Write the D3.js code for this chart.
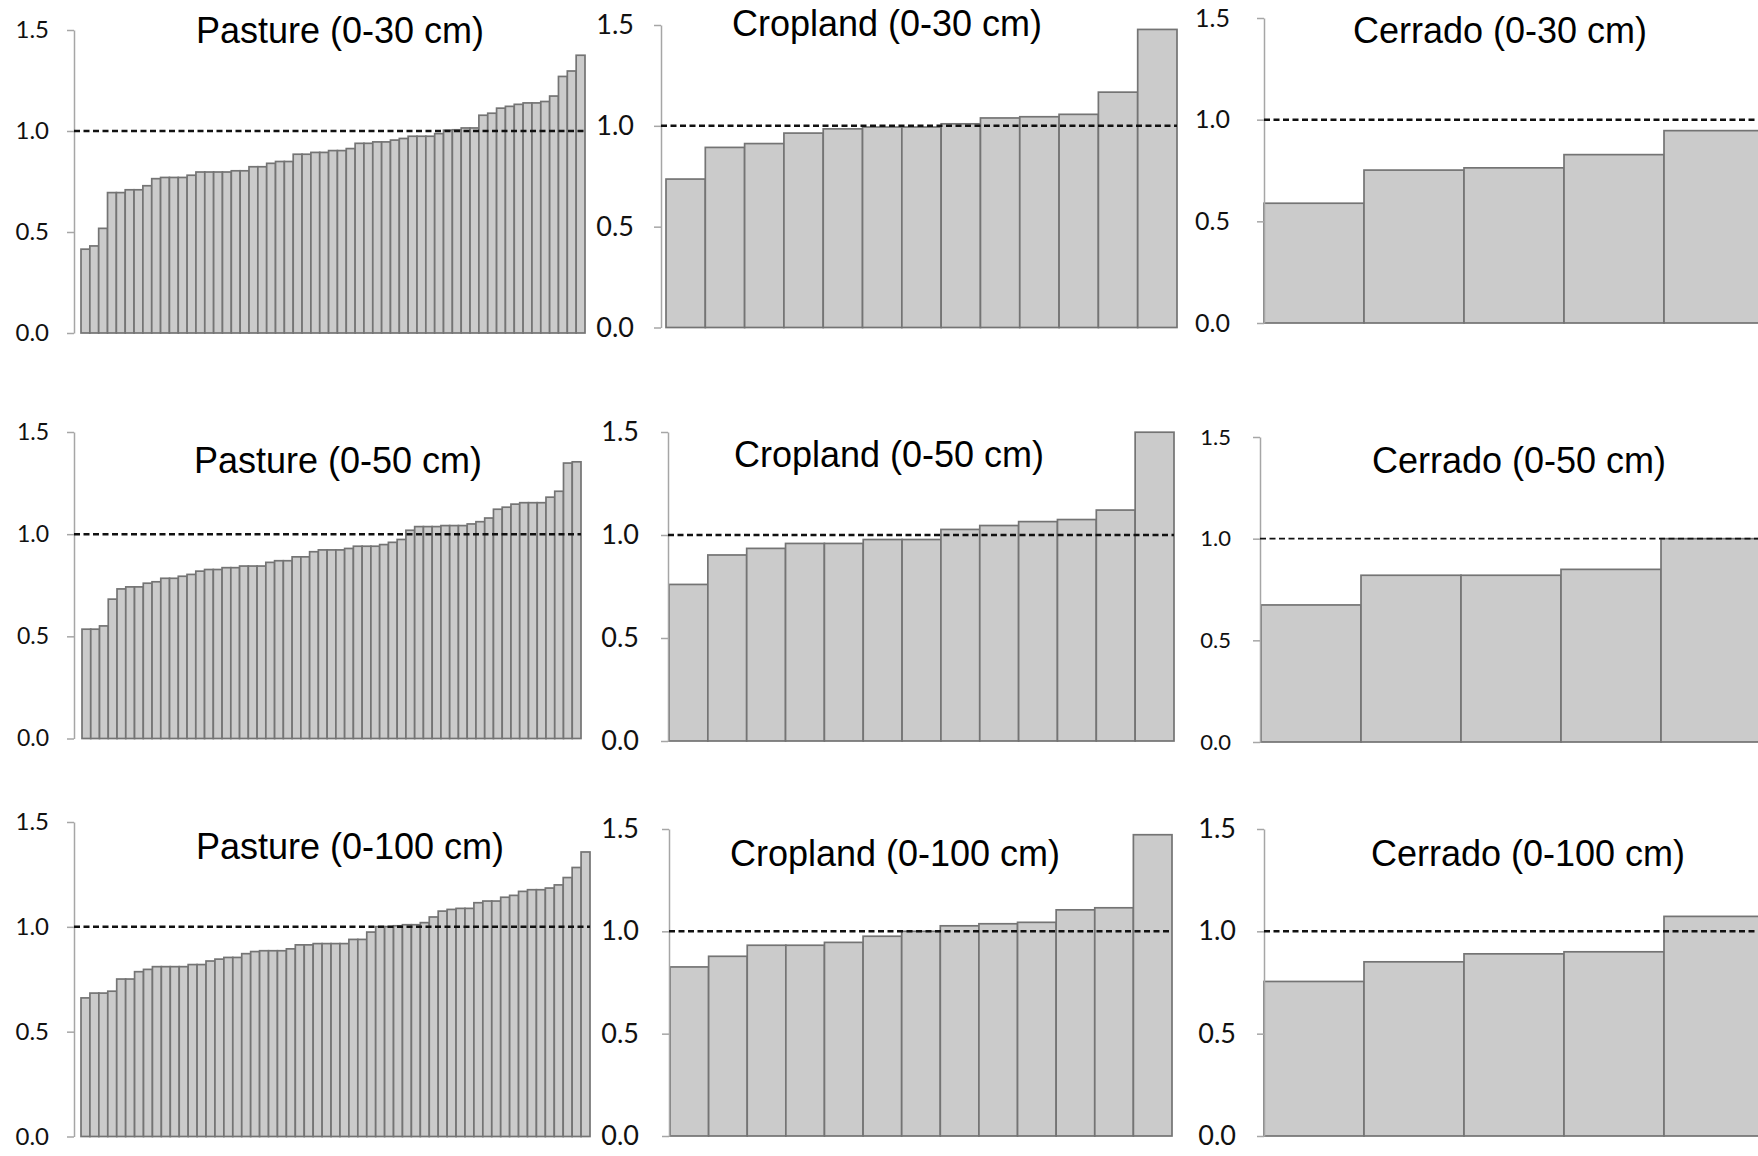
<!DOCTYPE html>
<html>
<head>
<meta charset="utf-8">
<script src="https://cdn.jsdelivr.net/npm/d3@7"></script>
<style>
  html, body { margin: 0; padding: 0; background: #fff; }
  svg { display: block; }
</style>
</head>
<body>
<svg id="chart" width="1758" height="1156"></svg>
<script>
// Ratio values per site, sorted ascending, for each land use and soil depth
const yTicks = [0, 0.5, 1.0, 1.5];

const pasture30 = [
  0.415, 0.431, 0.518, 0.695, 0.695, 0.709, 0.709, 0.729, 0.764, 0.770,
  0.770, 0.770, 0.781, 0.797, 0.797, 0.797, 0.797, 0.803, 0.803, 0.823,
  0.823, 0.840, 0.849, 0.849, 0.885, 0.885, 0.894, 0.894, 0.903, 0.903,
  0.913, 0.939, 0.939, 0.946, 0.946, 0.955, 0.963, 0.974, 0.974, 0.974,
  0.987, 1.004, 1.006, 1.015, 1.015, 1.078, 1.088, 1.113, 1.122, 1.132,
  1.139, 1.139, 1.146, 1.173, 1.270, 1.297, 1.375
];
const pasture50 = [
  0.535, 0.535, 0.551, 0.682, 0.732, 0.742, 0.742, 0.760, 0.767, 0.784,
  0.784, 0.794, 0.803, 0.819, 0.827, 0.827, 0.836, 0.836, 0.844, 0.844,
  0.844, 0.862, 0.870, 0.870, 0.889, 0.889, 0.914, 0.923, 0.923, 0.923,
  0.930, 0.941, 0.941, 0.941, 0.949, 0.960, 0.974, 1.019, 1.037, 1.037,
  1.037, 1.042, 1.042, 1.042, 1.050, 1.061, 1.079, 1.122, 1.132, 1.147,
  1.154, 1.154, 1.154, 1.181, 1.210, 1.348, 1.354
];
const pasture100 = [
  0.661, 0.684, 0.684, 0.693, 0.751, 0.751, 0.786, 0.797, 0.810, 0.810,
  0.810, 0.810, 0.820, 0.820, 0.837, 0.846, 0.854, 0.854, 0.872, 0.882,
  0.886, 0.886, 0.886, 0.895, 0.914, 0.914, 0.920, 0.920, 0.920, 0.920,
  0.940, 0.940, 0.975, 1.001, 1.001, 1.005, 1.010, 1.010, 1.020, 1.047,
  1.075, 1.083, 1.088, 1.088, 1.115, 1.123, 1.123, 1.141, 1.150, 1.169,
  1.177, 1.177, 1.185, 1.200, 1.235, 1.283, 1.357
];
const cropland30  = [0.736, 0.893, 0.912, 0.964, 0.985, 0.994, 0.994, 1.010, 1.039, 1.045, 1.057, 1.167, 1.478];
const cropland50  = [0.760, 0.903, 0.935, 0.959, 0.959, 0.978, 0.978, 1.027, 1.046, 1.065, 1.075, 1.121, 1.499];
const cropland100 = [0.826, 0.878, 0.932, 0.932, 0.946, 0.976, 1.000, 1.027, 1.037, 1.044, 1.105, 1.115, 1.472];
const cerrado30  = [0.589, 0.752, 0.763, 0.828, 0.946];
const cerrado50  = [0.674, 0.820, 0.820, 0.849, 1.000];
const cerrado100 = [0.755, 0.851, 0.890, 0.900, 1.073];

const panelTitles = [
  "Pasture (0-30 cm)",  "Cropland (0-30 cm)",  "Cerrado (0-30 cm)",
  "Pasture (0-50 cm)",  "Cropland (0-50 cm)",  "Cerrado (0-50 cm)",
  "Pasture (0-100 cm)", "Cropland (0-100 cm)", "Cerrado (0-100 cm)"
];
const panelSeries = [
  pasture30,  cropland30,  cerrado30,
  pasture50,  cropland50,  cerrado50,
  pasture100, cropland100, cerrado100
];
const referenceLevel = 1.0;

// Panel frames: axis x, bar extent, vertical extent of the 0..1.5 scale,
// title anchor, tick label size and gap, dashed line width.
const frames = [
  { ax: 74,   bx0: 81,   bx1: 585,  y0: 333,  y1: 30,  tx: 340,  ty: 43,  fs: 24, pad: 18, dw: 2.5 },
  { ax: 661,  bx0: 666,  bx1: 1177, y0: 327.5, y1: 25, tx: 887,  ty: 36,  fs: 27, pad: 20, dw: 2.5 },
  { ax: 1264, bx0: 1264, bx1: 1764, y0: 323,  y1: 18,  tx: 1500, ty: 43,  fs: 25, pad: 27, dw: 2.5 },
  { ax: 74,   bx0: 82,   bx1: 581,  y0: 738.5, y1: 432, tx: 338, ty: 473, fs: 23, pad: 18, dw: 2.5 },
  { ax: 668,  bx0: 669,  bx1: 1174, y0: 741,  y1: 432, tx: 889,  ty: 467, fs: 27, pad: 22, dw: 2.5 },
  { ax: 1260, bx0: 1261, bx1: 1761, y0: 742,  y1: 437, tx: 1519, ty: 473, fs: 22, pad: 22, dw: 1.6 },
  { ax: 74,   bx0: 81,   bx1: 590,  y0: 1136.5, y1: 822, tx: 350, ty: 859, fs: 24, pad: 18, dw: 2.5 },
  { ax: 669,  bx0: 670,  bx1: 1172, y0: 1136, y1: 829, tx: 895,  ty: 866, fs: 27, pad: 23, dw: 2.5 },
  { ax: 1264, bx0: 1264, bx1: 1764, y0: 1136, y1: 829, tx: 1528, ty: 866, fs: 27, pad: 21, dw: 2.5 }
];

const svg = d3.select("#chart");

panelSeries.forEach((values, p) => {
  const f = frames[p];
  const g = svg.append("g");

  const y = d3.scaleLinear().domain([0, 1.5]).range([f.y0, f.y1]);
  const x = d3.scaleBand()
    .domain(d3.range(values.length))
    .range([f.bx0, f.bx1])
    .padding(0);

  // Bars
  g.append("g")
    .selectAll("rect")
    .data(values)
    .join("rect")
    .attr("x", (d, i) => x(i))
    .attr("y", d => y(d))
    .attr("width", x.bandwidth())
    .attr("height", d => y(0) - y(d))
    .attr("fill", "#cbcbcb")
    .attr("stroke", "#747474")
    .attr("stroke-width", 1.7);

  // Y axis
  const axis = d3.axisLeft(y)
    .tickValues(yTicks)
    .tickFormat(d3.format(".1f"))
    .tickSize(7)
    .tickSizeOuter(0)
    .tickPadding(f.pad);

  const ag = g.append("g")
    .attr("transform", `translate(${f.ax},0)`)
    .call(axis);
  ag.select(".domain").attr("stroke", "#a6a6a6").attr("stroke-width", 1.5);
  ag.selectAll(".tick line").attr("stroke", "#a6a6a6").attr("stroke-width", 1.5);
  ag.selectAll(".tick text")
    .attr("fill", "#111")
    .style("font-family", "Lato, 'Open Sans', sans-serif")
    .style("font-size", f.fs + "px");

  // Reference line at ratio 1.0
  g.append("line")
    .attr("x1", f.ax)
    .attr("x2", f.bx1)
    .attr("y1", y(referenceLevel))
    .attr("y2", y(referenceLevel))
    .attr("stroke", "#111")
    .attr("stroke-width", f.dw)
    .attr("stroke-dasharray", "6,3.5");

  // Panel title
  g.append("text")
    .attr("x", f.tx)
    .attr("y", f.ty)
    .attr("text-anchor", "middle")
    .style("font-family", "'Liberation Sans', Arial, sans-serif")
    .style("font-size", "36px")
    .attr("fill", "#000")
    .text(panelTitles[p]);
});
</script>
</body>
</html>
